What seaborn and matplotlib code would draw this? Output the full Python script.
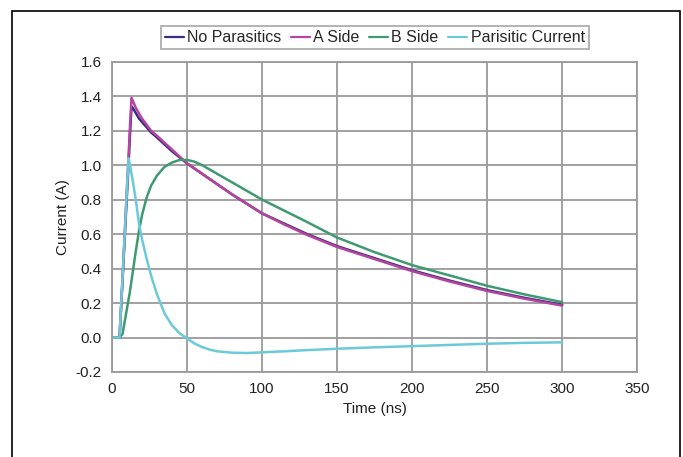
import numpy as np
import pandas as pd
import seaborn as sns
import matplotlib.pyplot as plt
from matplotlib.patches import Rectangle

# data
time_ns = [0, 5, 7, 9, 11, 12, 13, 14, 16, 18, 20, 23, 26, 30, 35, 40, 45, 50, 55, 60,
           65, 70, 80, 90, 100, 115, 130, 150, 175, 200, 225, 250, 275, 300]
no_parasitics = [0, 0, 0.33, 0.67, 1.0, 1.18, 1.34, 1.33, 1.30, 1.27,
                 1.25, 1.22, 1.19, 1.16, 1.12, 1.08, 1.045, 1.01, 0.98, 0.95,
                 0.92, 0.89, 0.83, 0.775, 0.72, 0.66, 0.60, 0.53, 0.46, 0.39,
                 0.33, 0.275, 0.23, 0.19]
a_side = [0, 0, 0.34, 0.70, 1.05, 1.23, 1.39, 1.37, 1.33, 1.30,
          1.27, 1.235, 1.20, 1.17, 1.13, 1.09, 1.05, 1.01, 0.98, 0.95,
          0.92, 0.89, 0.83, 0.775, 0.72, 0.655, 0.595, 0.525, 0.455, 0.385,
          0.325, 0.27, 0.225, 0.185]
b_side = [0, 0, 0.02, 0.12, 0.22, 0.27, 0.33, 0.39, 0.51, 0.62,
          0.71, 0.81, 0.88, 0.94, 0.99, 1.015, 1.03, 1.03, 1.02, 1.0,
          0.975, 0.95, 0.90, 0.85, 0.80, 0.735, 0.67, 0.58, 0.495, 0.42,
          0.36, 0.30, 0.25, 0.205]
parasitic = [0, 0, 0.35, 0.70, 1.04, 1.0, 0.95, 0.90, 0.79, 0.66,
             0.57, 0.46, 0.36, 0.25, 0.14, 0.07, 0.025, -0.005, -0.035, -0.055,
             -0.07, -0.08, -0.088, -0.09, -0.086, -0.08, -0.073, -0.065, -0.057, -0.05,
             -0.043, -0.036, -0.031, -0.028]

series = ["No Parasitics", "A Side", "B Side", "Parisitic Current"]
colors = ["#3a2d80", "#b4449e", "#3f9a72", "#6ccad8"]

df = pd.DataFrame({"t": time_ns * 4,
                   "current": no_parasitics + a_side + b_side + parasitic,
                   "series": np.repeat(series, len(time_ns))})

sns.set_style("white")
plt.rcParams['font.family'] = ['Liberation Sans', 'DejaVu Sans']

fig = plt.figure(figsize=(6.83, 4.57), dpi=100)
ax = fig.add_axes([0.164, 0.186, 0.769, 0.679])

sns.lineplot(data=df, x="t", y="current", hue="series", hue_order=series,
             palette=colors, linewidth=1.8, ax=ax, legend=False)

ax.set_xlim(0, 350)
ax.set_ylim(-0.2, 1.6)
ax.set_xticks(np.arange(0, 351, 50))
ax.set_yticks(np.arange(-0.2, 1.61, 0.2))
ax.set_yticklabels([f"{v:.1f}" for v in np.arange(-0.2, 1.61, 0.2)])
ax.grid(True, color="#9a9a9a", linewidth=1.3)
ax.set_axisbelow(True)
for s in ax.spines.values():
    s.set_color("#9a9a9a")
    s.set_linewidth(1.3)
ax.tick_params(axis="both", direction="out", length=4, width=1.2, color="#9a9a9a",
               labelsize=11, colors="#9a9a9a", labelcolor="#222222")
ax.set_xlabel("Time (ns)", fontsize=11, color="#222222")
ax.set_ylabel("Current (A)", fontsize=11, color="#222222")

handles = [plt.Line2D([], [], color=c, lw=1.6) for c in colors]
leg = ax.legend(handles, series, loc="lower center", bbox_to_anchor=(0.5, 1.04),
                ncol=4, frameon=True, fancybox=False, fontsize=11.5,
                handlelength=1.2, handletextpad=0.2, columnspacing=0.6,
                borderpad=0.25, borderaxespad=0)
leg.get_frame().set_edgecolor("#9a9a9a")
leg.get_frame().set_linewidth(1.3)

# outer frame, open at the bottom edge of the image
fig.patches.append(Rectangle((12 / 683, -0.05), 668 / 683, 1.05 - 11 / 457,
                             transform=fig.transFigure, fill=False,
                             edgecolor="black", linewidth=1.2))

fig.savefig("out.png", dpi=100)
